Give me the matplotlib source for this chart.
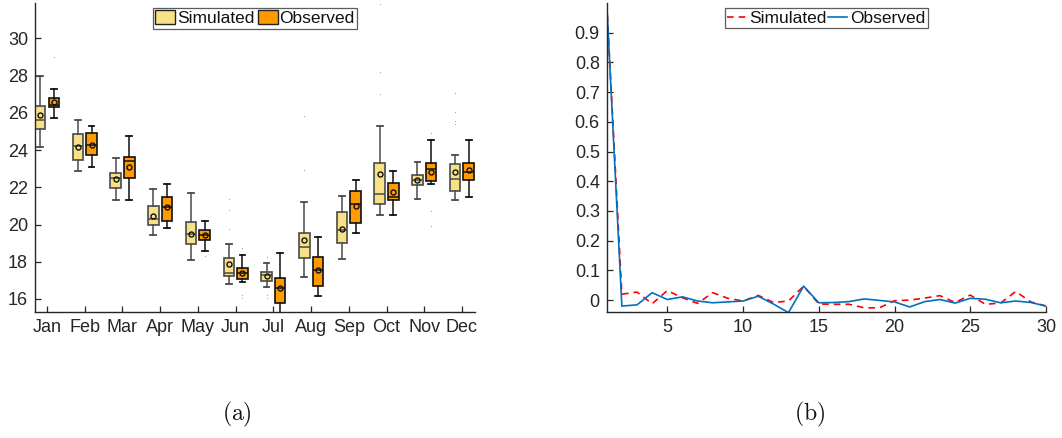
import matplotlib
matplotlib.use("Agg")
import matplotlib.pyplot as plt
from matplotlib.patches import Patch

plt.rcParams['font.family'] = ['Liberation Sans', 'DejaVu Sans']
plt.rcParams['mathtext.fontset'] = 'cm'

# ---------------- monthly temperature box statistics ----------------
months = ['Jan', 'Feb', 'Mar', 'Apr', 'May', 'Jun',
          'Jul', 'Aug', 'Sep', 'Oct', 'Nov', 'Dec']

sim_lo   = [24.18, 22.87, 21.32, 19.42, 18.08, 16.79, 16.63, 17.18, 18.13, 20.53, 21.37, 21.32]
sim_q1   = [25.13, 23.46, 21.98, 19.97, 18.94, 17.23, 16.97, 18.18, 19.01, 21.08, 22.12, 21.80]
sim_med  = [25.61, 24.22, 22.48, 20.30, 19.49, 17.41, 17.29, 18.81, 19.70, 21.64, 22.39, 22.43]
sim_q3   = [26.36, 24.84, 22.78, 20.98, 20.12, 18.18, 17.47, 19.53, 20.66, 23.29, 22.67, 23.23]
sim_hi   = [28.00, 25.63, 23.59, 21.92, 21.69, 18.95, 17.92, 21.19, 21.55, 25.27, 23.37, 23.72]
sim_mean = [25.88, 24.18, 22.45, 20.47, 19.49, 17.86, 17.22, 19.15, 19.76, 22.73, 22.39, 22.80]
sim_out  = [[], [], [], [], [], [21.35, 20.78, 19.74], [18.24, 16.21, 16.03],
            [25.84, 22.93], [], [31.84, 28.21, 26.99], [], [27.08, 26.03, 25.56, 25.38]]

obs_lo   = [25.70, 23.10, 21.32, 19.80, 18.59, 16.93, 15.20, 16.16, 19.53, 20.53, 22.19, 21.46]
obs_q1   = [26.33, 23.72, 22.48, 20.19, 19.17, 17.09, 15.80, 16.70, 20.06, 21.30, 22.36, 22.37]
obs_med  = [26.40, 24.27, 23.39, 20.96, 19.42, 17.38, 16.60, 17.54, 21.08, 21.49, 22.96, 22.82]
obs_q3   = [26.81, 24.90, 23.61, 21.46, 19.70, 17.65, 17.14, 18.24, 21.78, 22.21, 23.29, 23.29]
obs_hi   = [27.30, 25.29, 24.77, 22.18, 20.17, 18.36, 18.49, 19.34, 22.39, 22.87, 24.54, 24.56]
obs_mean = [26.60, 24.27, 23.07, 20.96, 19.42, 17.38, 16.60, 17.54, 20.99, 21.76, 22.84, 22.93]
obs_out  = [[28.98], [], [], [], [18.31], [18.72, 16.21, 16.04], [], [], [],
            [], [24.90, 20.74, 19.92], []]

# ---------------- autocorrelation by lag ----------------
lags = list(range(1, 31))
acf_sim = [1.0, 0.020, 0.027, -0.012, 0.032, 0.008, -0.011, 0.025, 0.006, -0.003,
           0.016, -0.008, -0.003, 0.047, -0.013, -0.014, -0.014, -0.026, -0.026, -0.002,
           0.000, 0.007, 0.015, -0.008, 0.017, -0.014, -0.010, 0.029, -0.006, -0.020]
acf_obs = [1.0, -0.020, -0.016, 0.025, 0.002, 0.011, -0.003, -0.009, -0.006, -0.003,
           0.013, -0.013, -0.042, 0.047, -0.009, -0.008, -0.005, 0.004, -0.001, -0.006,
           -0.023, -0.005, 0.002, -0.010, 0.006, 0.003, -0.009, -0.003, -0.008, -0.020]

TXT = '#262626'
SIM_FILL, SIM_EDGE = '#F8E186', '#4a4a4a'
OBS_FILL, OBS_EDGE = '#FF9A00', '#111111'

fig = plt.figure(figsize=(10.62, 4.38), dpi=100)
W, H = 1062, 438


def px_axes(x0, x1, y0, y1):
    return fig.add_axes([x0 / W, 1 - y1 / H, (x1 - x0) / W, (y1 - y0) / H])


def style_axes(ax):
    for s in ('top', 'right'):
        ax.spines[s].set_visible(False)
    for s in ('left', 'bottom'):
        ax.spines[s].set_color(TXT)
        ax.spines[s].set_linewidth(1.0)
    ax.tick_params(direction='in', length=4, width=0.9, colors=TXT,
                   labelsize=13, pad=5)


def box_stats(lo, q1, med, q3, hi, mean, out):
    return [dict(whislo=a, q1=b, med=c, q3=d, whishi=e, mean=f, fliers=g)
            for a, b, c, d, e, f, g in zip(lo, q1, med, q3, hi, mean, out)]


def style_legend(leg):
    leg.get_frame().set_edgecolor('#333333')
    leg.get_frame().set_linewidth(0.9)
    for t in leg.get_texts():
        t.set_color('#111111')


# ---------------- (a) monthly box plot ----------------
axa = px_axes(35, 475, 3, 312)
pos = list(range(1, len(months) + 1))
off, bw = 0.18, 0.28

groups = [
    (box_stats(sim_lo, sim_q1, sim_med, sim_q3, sim_hi, sim_mean, sim_out), -off, SIM_FILL, SIM_EDGE),
    (box_stats(obs_lo, obs_q1, obs_med, obs_q3, obs_hi, obs_mean, obs_out), off, OBS_FILL, OBS_EDGE),
]
for stats, dx, fill, edge in groups:
    axa.bxp(stats, positions=[p + dx for p in pos], widths=bw,
            patch_artist=True, showmeans=True, showfliers=True,
            boxprops=dict(facecolor=fill, edgecolor=edge, linewidth=1.2),
            medianprops=dict(color=edge, linewidth=1.1),
            whiskerprops=dict(color=edge, linewidth=1.1),
            capprops=dict(color=edge, linewidth=1.3),
            capwidths=bw * 0.55,
            meanprops=dict(marker='o', markersize=3.6, markerfacecolor='none',
                           markeredgecolor='#111111', markeredgewidth=1.0),
            flierprops=dict(marker='.', markersize=1.6, markerfacecolor='#9a9a9a',
                            markeredgecolor='none'))

axa.set_xlim(0.682, 12.345)
axa.set_ylim(15.3, 31.9)
axa.set_xticks(pos)
axa.set_xticklabels(months)
axa.set_yticks([16, 18, 20, 22, 24, 26, 28, 30])
style_axes(axa)

leg_a = axa.legend(handles=[Patch(facecolor=SIM_FILL, edgecolor='#222222', linewidth=1.0),
                            Patch(facecolor=OBS_FILL, edgecolor='#222222', linewidth=1.0)],
                   labels=['Simulated', 'Observed'], loc='upper center',
                   bbox_to_anchor=(0.5, 0.99), ncol=2, fontsize=12.5, frameon=True,
                   fancybox=False, borderpad=0.15, handlelength=1.15, handleheight=0.8,
                   handletextpad=0.1, columnspacing=0.2, borderaxespad=0.1)
style_legend(leg_a)

# ---------------- (b) autocorrelation ----------------
axb = px_axes(606.7, 1046, 3, 312)
axb.plot(lags, acf_sim, color='#FF0000', linestyle=(0, (4, 3)), linewidth=1.2, label='Simulated')
axb.plot(lags, acf_obs, color='#0072BD', linestyle='-', linewidth=1.2, label='Observed')
axb.set_xlim(1, 30)
axb.set_ylim(-0.04, 1.0)
axb.set_xticks([5, 10, 15, 20, 25, 30])
axb.set_yticks([0, 0.1, 0.2, 0.3, 0.4, 0.5, 0.6, 0.7, 0.8, 0.9])
axb.set_yticklabels(['0', '0.1', '0.2', '0.3', '0.4', '0.5', '0.6', '0.7', '0.8', '0.9'])
style_axes(axb)

leg_b = axb.legend(loc='upper center', bbox_to_anchor=(0.5, 0.99), ncol=2, fontsize=12.5,
                   frameon=True, fancybox=False, borderpad=0.15, handlelength=1.05,
                   handletextpad=0.2, columnspacing=0.1, borderaxespad=0.1)
style_legend(leg_b)

# ---------------- panel captions ----------------
fig.text(237 / W, 1 - 414 / H, r'$\mathrm{(a)}$', ha='center', va='center', fontsize=17, color='#111111')
fig.text(810 / W, 1 - 414 / H, r'$\mathrm{(b)}$', ha='center', va='center', fontsize=17, color='#111111')

fig.savefig('out.png', dpi=100)
